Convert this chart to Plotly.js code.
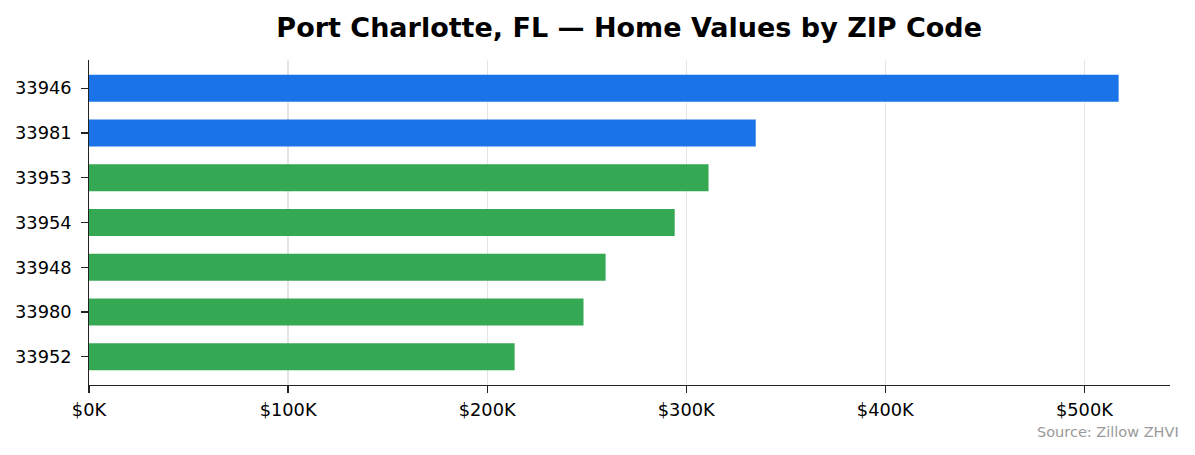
<!DOCTYPE html>
<html>
<head>
<meta charset="utf-8">
<script src="https://cdn.plot.ly/plotly-3.0.1.min.js"></script>
<style>html,body{margin:0;padding:0;background:#fff;}#chart{width:1195px;height:455px;}</style>
</head>
<body>
<div id="chart"></div>
<script>
const zipCodes = ["33946", "33981", "33953", "33954", "33948", "33980", "33952"];
const homeValues = [517200, 334900, 311200, 294200, 259500, 248400, 213800];
const barColors = ["#1a73e8", "#1a73e8", "#34a853", "#34a853", "#34a853", "#34a853", "#34a853"];
const tickValues = [0, 100000, 200000, 300000, 400000, 500000];
const tickLabels = ["$0K", "$100K", "$200K", "$300K", "$400K", "$500K"];
const chartTitle = "Port Charlotte, FL — Home Values by ZIP Code";
const sourceNote = "Source: Zillow ZHVI";

const font = "DejaVu Sans, sans-serif";
const trace = {
  type: "bar",
  orientation: "h",
  x: homeValues,
  y: zipCodes,
  marker: {color: barColors, line: {width: 0}},
  width: 0.6,
  hoverinfo: "x+y"
};
const layout = {
  width: 1195, height: 455,
  margin: {l: 89, r: 25, t: 60, b: 70},
  paper_bgcolor: "#fff", plot_bgcolor: "#fff",
  showlegend: false,
  font: {family: font, size: 18, color: "#000"},
  title: {text: "<b>" + chartTitle + "</b>", font: {family: font, size: 27, color: "#000"},
          x: 0.5265, xanchor: "center", y: 0.94, yanchor: "middle", yref: "container"},
  xaxis: {
    range: [0, 543000], tickvals: tickValues, ticktext: tickLabels,
    showgrid: true, gridcolor: "rgba(0,0,0,0.1)", gridwidth: 1.2,
    showline: true, linecolor: "#222", linewidth: 1.3,
    ticks: "outside", ticklen: 6.5, tickwidth: 1.3, tickcolor: "#222",
    ticklabelstandoff: 2,
    zeroline: false, layer: "above traces", fixedrange: true,
    tickfont: {family: font, size: 17.8, color: "#000"}
  },
  yaxis: {
    type: "category", categoryorder: "array", categoryarray: zipCodes,
    range: [6.63, -0.63],
    showgrid: false, showline: true, linecolor: "#222", linewidth: 1.3,
    ticks: "outside", ticklen: 6.5, tickwidth: 1.3, tickcolor: "#222",
    ticklabelstandoff: 6,
    zeroline: false, fixedrange: true,
    tickfont: {family: font, size: 17.8, color: "#000"}
  },
  annotations: [{
    text: sourceNote, xref: "paper", yref: "paper",
    x: 1.0102, y: -0.145, xanchor: "right", yanchor: "middle",
    showarrow: false, font: {family: font, size: 14.5, color: "#999"}
  }]
};
Plotly.newPlot("chart", [trace], layout, {displayModeBar: false, staticPlot: true});
</script>
</body>
</html>
